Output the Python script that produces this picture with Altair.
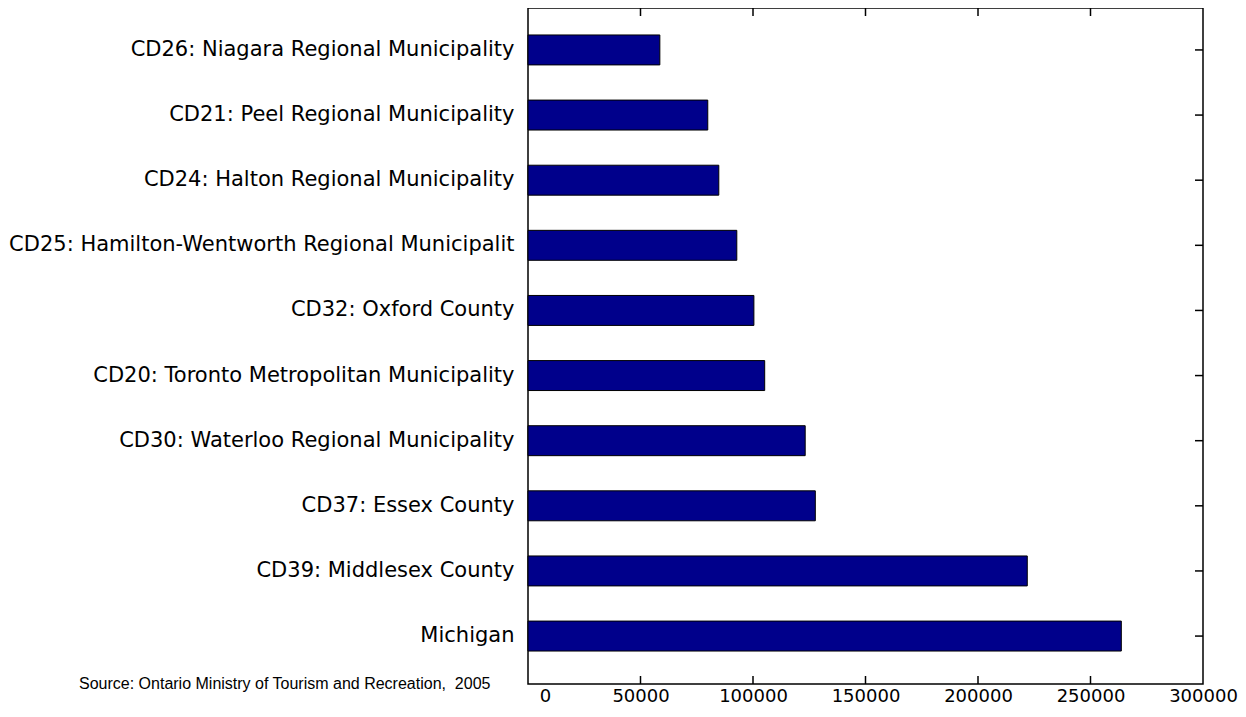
import altair as alt
import pandas as pd

categories = [
    "CD26: Niagara Regional Municipality",
    "CD21: Peel Regional Municipality",
    "CD24: Halton Regional Municipality",
    "CD25: Hamilton-Wentworth Regional Municipalit",
    "CD32: Oxford County",
    "CD20: Toronto Metropolitan Municipality",
    "CD30: Waterloo Regional Municipality",
    "CD37: Essex County",
    "CD39: Middlesex County",
    "Michigan",
]
values = [58600, 79900, 84800, 92800, 100400, 105200, 123200, 127700, 221900, 263700]
x_ticks = [0, 50000, 100000, 150000, 200000, 250000, 300000]
inner_ticks = [50000, 100000, 150000, 200000, 250000]
source_text = ["Source: Ontario Ministry of Tourism and Recreation,\u00a0 2005"]

W, H = 675, 676

df = pd.DataFrame({"region": categories, "visitors": values})
ticks_df = pd.DataFrame({"t": inner_ticks})
src_df = pd.DataFrame({"s": source_text})

yscale = alt.Scale(paddingInner=0.54, paddingOuter=0.46, align=0.45)
xscale = alt.Scale(domain=[0, 300000], nice=False, zero=True)

x_axis = alt.Axis(
    values=x_ticks,
    ticks=False,
    domain=False,
    grid=False,
    format="d",
    labelFont="DejaVu Sans",
    labelFontSize=18,
    labelColor="#000000",
    labelPadding=3,
    labelFlush=False,
    labelOverlap=False,
    labelOffset={
        "condition": {"test": "datum.value == 0", "value": 17},
        "value": 0,
    },
)
y_axis = alt.Axis(
    ticks=False,
    domain=False,
    grid=False,
    labelFont="DejaVu Sans",
    labelFontSize=21,
    labelColor="#000000",
    labelPadding=14,
    labelLimit=700,
)

bars = alt.Chart(df).mark_bar(fill="#00008b", stroke="#000000", strokeWidth=1).encode(
    x=alt.X("visitors:Q", scale=xscale, title=None, axis=x_axis),
    y=alt.Y("region:N", sort=categories, scale=yscale, title=None, axis=y_axis),
)

right_ticks = alt.Chart(df).mark_rule(color="#000000", strokeWidth=1.5).encode(
    y=alt.Y("region:N", sort=categories, scale=yscale, title=None, axis=y_axis),
    x=alt.value(W - 8),
    x2=alt.value(W),
)

top_ticks = alt.Chart(ticks_df).mark_rule(color="#000000", strokeWidth=1.5).encode(
    x=alt.X("t:Q", scale=xscale, title=None, axis=x_axis),
    y=alt.value(0),
    y2=alt.value(8),
)

bottom_ticks = alt.Chart(ticks_df).mark_rule(color="#000000", strokeWidth=1.5).encode(
    x=alt.X("t:Q", scale=xscale, title=None, axis=x_axis),
    y=alt.value(H - 8),
    y2=alt.value(H),
)

source = alt.Chart(src_df).mark_text(
    align="left", baseline="middle", font="Liberation Sans", fontSize=16, color="#000000"
).encode(
    text="s:N",
    x=alt.value(-449),
    y=alt.value(H),
)

chart = (
    alt.layer(bars, right_ticks, top_ticks, bottom_ticks, source)
    .properties(
        width=W,
        height=H,
        autosize=alt.AutoSizeParams(type="none"),
        padding={"left": 520, "top": 0, "right": 35, "bottom": 25},
        background="#ffffff",
    )
    .configure_view(stroke="#000000", strokeWidth=1.5)
)

chart.save("out.html", embed_options={"renderer": "svg", "actions": False})
